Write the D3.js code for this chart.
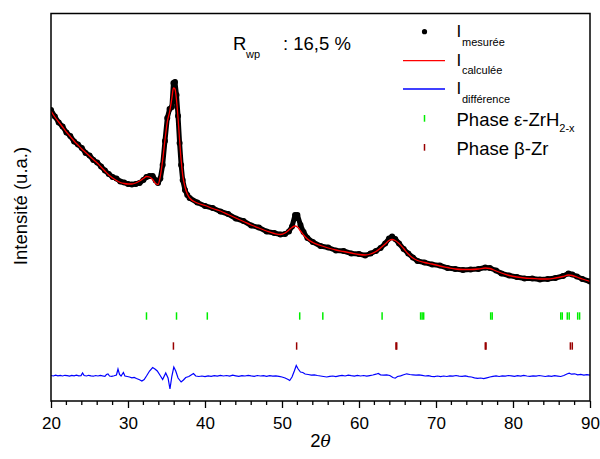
<!DOCTYPE html>
<html><head><meta charset="utf-8">
<script src="https://cdn.jsdelivr.net/npm/d3@7"></script>
<style>body{margin:0;background:#fff} svg{display:block} text{font-family:"Liberation Sans",Arial,sans-serif;fill:#000}</style>
</head><body><svg id="c" width="600" height="459"></svg>
<script>
// 2θ grid shared by measured and calculated profiles
const twoTheta = [20.0,20.5,21.0,21.5,22.0,22.5,23.0,23.5,24.0,24.5,25.0,25.5,26.0,26.5,27.0,27.5,28.0,28.5,29.0,29.5,30.0,30.5,31.0,31.5,32.0,32.4,32.8,33.2,33.6,33.9,34.2,34.5,34.8,35.1,35.4,35.7,35.9,36.1,36.3,36.5,36.7,36.9,37.1,37.4,37.7,38.0,39.0,40.0,41.0,42.0,43.0,44.0,45.0,46.0,47.0,48.0,49.0,49.8,50.4,50.9,51.3,51.7,52.0,52.4,52.8,53.3,54.0,55.0,56.0,57.0,58.0,59.0,60.0,60.8,61.5,62.2,62.8,63.4,63.9,64.3,64.7,65.2,65.8,66.4,67.0,67.6,68.5,69.5,70.5,71.5,72.5,73.5,74.5,75.5,76.4,77.0,77.8,78.5,79.5,80.5,81.5,82.5,83.5,84.5,85.5,86.5,87.2,87.7,88.3,89.0,90.0];
const calculated = [2900,2840,2790,2740,2690,2645,2600,2560,2520,2485,2450,2415,2380,2340,2300,2260,2230,2205,2185,2175,2170,2170,2180,2200,2225,2245,2240,2215,2175,2165,2250,2410,2610,2790,2890,3030,3130,3120,3010,2830,2610,2410,2260,2140,2070,2030,1980,1955,1925,1900,1865,1830,1795,1760,1730,1700,1675,1665,1680,1710,1735,1750,1740,1700,1660,1620,1585,1555,1530,1510,1495,1480,1465,1460,1470,1495,1530,1570,1605,1615,1605,1575,1525,1470,1430,1405,1385,1370,1350,1335,1320,1315,1315,1320,1330,1325,1300,1280,1255,1240,1230,1225,1220,1220,1230,1245,1260,1255,1240,1220,1195];
const measured = [2910,2845,2785,2745,2685,2650,2595,2565,2530,2480,2455,2410,2385,2345,2305,2270,2240,2225,2195,2185,2170,2165,2170,2180,2210,2240,2250,2250,2205,2180,2225,2360,2600,2830,2920,2940,3180,3190,3060,2850,2580,2360,2210,2110,2060,2030,1985,1950,1930,1895,1870,1825,1800,1755,1735,1695,1680,1665,1670,1695,1745,1860,1860,1760,1690,1630,1590,1550,1535,1505,1500,1475,1470,1455,1475,1500,1530,1575,1625,1645,1620,1575,1520,1475,1435,1400,1385,1365,1355,1330,1320,1310,1315,1320,1335,1330,1305,1275,1255,1240,1225,1225,1215,1220,1230,1250,1275,1265,1245,1220,1195];
// difference curve (plotted with its offset)
const diffTheta = [20.0,20.3,20.6,20.9,21.2,21.5,21.8,22.1,22.4,22.7,23.0,23.3,23.6,23.9,24.1,24.3,24.6,24.9,25.2,25.5,25.8,26.1,26.4,26.7,27.0,27.2,27.4,27.6,27.9,28.2,28.5,28.7,28.9,29.1,29.4,29.6,29.9,30.2,30.5,30.8,31.1,31.5,31.8,32.1,32.4,32.8,33.2,33.5,33.8,34.1,34.5,34.9,35.2,35.45,35.7,35.95,36.2,36.5,36.9,37.2,37.5,37.9,38.2,38.5,38.8,39.2,39.6,40.0,40.4,40.8,41.2,41.6,42.0,42.4,42.8,43.2,43.6,44.0,44.4,44.8,45.2,45.6,46.0,46.4,46.8,47.2,47.6,48.0,48.4,48.8,49.2,49.6,50.0,50.4,50.8,51.0,51.3,51.6,51.85,52.1,52.4,52.7,53.0,53.4,53.8,54.2,54.6,55.0,55.4,55.8,56.2,56.6,57.0,57.4,57.8,58.2,58.6,59.0,59.4,59.8,60.2,60.6,61.0,61.4,61.8,62.2,62.5,62.8,63.2,63.6,64.0,64.4,64.7,65.0,65.4,65.8,66.2,66.6,67.0,67.4,67.8,68.2,68.6,69.0,69.4,69.8,70.2,70.6,71.0,71.4,71.8,72.2,72.6,73.0,73.4,73.8,74.2,74.6,75.0,75.4,75.8,76.2,76.6,77.0,77.4,77.8,78.2,78.6,79.0,79.4,79.8,80.2,80.6,81.0,81.4,81.8,82.2,82.6,83.0,83.4,83.8,84.2,84.6,85.0,85.4,85.8,86.2,86.6,87.0,87.3,87.6,88.0,88.4,88.8,89.2,89.6,90.0];
const difference = [255,250,258,252,256,250,257,253,249,256,252,258,251,254,280,255,250,257,252,248,255,250,256,251,247,265,270,250,246,252,260,320,265,250,285,250,245,240,232,236,225,212,200,215,250,300,335,320,300,265,215,280,230,120,250,340,300,230,190,210,235,245,260,275,250,245,250,243,252,246,253,248,256,250,255,249,258,252,246,254,250,256,251,247,255,250,253,247,254,249,252,246,240,230,215,205,240,300,355,320,290,285,270,265,258,262,255,250,245,240,246,250,244,252,256,250,258,253,249,256,250,255,248,254,260,268,275,262,258,262,255,235,228,245,252,262,272,265,262,258,262,256,250,254,247,244,250,243,250,245,252,248,255,249,246,252,244,240,232,226,230,224,232,240,246,251,245,252,248,255,251,246,253,249,256,250,246,252,248,255,250,245,251,247,253,249,245,255,270,278,268,272,262,266,258,263,258];
// Bragg reflection positions
const phaseEpsTheta = [32.4,36.3,40.3,52.3,55.3,63.0,68.0,68.2,68.4,77.1,77.3,86.2,86.4,87.05,87.3,88.4,88.65];
const phaseBetaTheta = [35.9,51.9,64.8,64.9,76.4,76.5,87.45,87.7];
const epsRow = 850, betaRow = 550;
const xTicks = [20,30,40,50,60,70,80,90];
const xMinorTicks = [22,24,26,28,32,34,36,38,42,44,46,48,52,54,56,58,62,64,66,68,72,74,76,78,82,84,86,88];

const svg = d3.select('#c');
const L = 51, R = 590, T = 13.5, B = 401;
const x = d3.scaleLinear().domain([20, 90]).range([L, R]);
const y = d3.scaleLinear().domain([0, 3875]).range([B, T]);

const g = svg.append('g');
// clip
svg.append('clipPath').attr('id','clip').append('rect').attr('x',L).attr('y',T).attr('width',R-L).attr('height',B-T);
const pg = svg.append('g').attr('clip-path','url(#clip)');

// difference
pg.append('path').datum(diffTheta.map((t,i)=>[t,difference[i]]))
  .attr('fill','none').attr('stroke','#0000ff').attr('stroke-width',1.2)
  .attr('d', d3.line().x(d=>x(d[0])).y(d=>y(d[1])));

// Bragg ticks
pg.selectAll('.eps').data(phaseEpsTheta).join('line')
  .attr('x1',d=>x(d)).attr('x2',d=>x(d)).attr('y1',y(epsRow)-3.7).attr('y2',y(epsRow)+3.7)
  .attr('stroke','#00ee00').attr('stroke-width',1.5);
pg.selectAll('.beta').data(phaseBetaTheta).join('line')
  .attr('x1',d=>x(d)).attr('x2',d=>x(d)).attr('y1',y(betaRow)-3.7).attr('y2',y(betaRow)+3.7)
  .attr('stroke','#990000').attr('stroke-width',1.5);

// measured
const obs = twoTheta.map((t,i)=>[t,measured[i]]);
pg.append('path').datum(obs).attr('fill','none').attr('stroke','#000').attr('stroke-width',5)
  .attr('stroke-linejoin','round').attr('stroke-linecap','round')
  .attr('d', d3.line().x(d=>x(d[0])).y(d=>y(d[1])));
pg.selectAll('.obs').data(obs).join('circle')
  .attr('cx',d=>x(d[0])).attr('cy',d=>y(d[1])).attr('r',3).attr('fill','#000');

// calculated
pg.append('path').datum(twoTheta.map((t,i)=>[t,calculated[i]]))
  .attr('fill','none').attr('stroke','#ff0000').attr('stroke-width',1.3)
  .attr('d', d3.line().curve(d3.curveMonotoneX).x(d=>x(d[0])).y(d=>y(d[1])));

// frame
svg.append('rect').attr('x',L).attr('y',T).attr('width',R-L).attr('height',B-T)
  .attr('fill','none').attr('stroke','#000').attr('stroke-width',1.5);

// x axis
const ax = svg.append('g').attr('transform',`translate(0,${B})`)
  .call(d3.axisBottom(x).tickValues(xTicks).tickSize(7).tickPadding(9).tickFormat(d3.format('d')));
ax.select('.domain').remove();
ax.selectAll('line').attr('stroke','#000').attr('stroke-width',1.3);
ax.selectAll('text').attr('font-size',17).attr('font-family','"Liberation Sans",Arial,sans-serif');
svg.append('g').selectAll('line').data(xMinorTicks).join('line')
  .attr('x1',d=>x(d)).attr('x2',d=>x(d)).attr('y1',B).attr('y2',B+4)
  .attr('stroke','#000').attr('stroke-width',1.3);

// axis titles
const xl = svg.append('text').attr('x',(L+R)/2).attr('y',447).attr('text-anchor','middle').attr('font-size',18.5);
xl.append('tspan').text('2');
xl.append('tspan').attr('font-style','italic').attr('font-family','"DejaVu Serif",serif').attr('font-size',17).text('θ');
svg.append('text').attr('transform','translate(27,206) rotate(-90)').attr('text-anchor','middle')
  .attr('font-size',18.5).text('Intensité (u.a.)');

// R_wp
svg.append('text').attr('x',233).attr('y',49.5).attr('font-size',18.5).text('R');
svg.append('text').attr('x',246).attr('y',58).attr('font-size',11).text('wp');
svg.append('text').attr('x',283).attr('y',49.5).attr('font-size',18.5).text(': 16,5 %');

// legend
const lx = 456.5, ls = 424.5;
svg.append('circle').attr('cx',ls).attr('cy',31.7).attr('r',2.6).attr('fill','#000');
svg.append('line').attr('x1',403).attr('x2',445).attr('y1',60.7).attr('y2',60.7).attr('stroke','#ff0000').attr('stroke-width',1.3);
svg.append('line').attr('x1',403).attr('x2',445).attr('y1',89).attr('y2',89).attr('stroke','#0000ff').attr('stroke-width',1.3);
svg.append('line').attr('x1',ls).attr('x2',ls).attr('y1',115).attr('y2',121.7).attr('stroke','#00ee00').attr('stroke-width',1.5);
svg.append('line').attr('x1',ls).attr('x2',ls).attr('y1',144).attr('y2',150.7).attr('stroke','#990000').attr('stroke-width',1.5);
const items = [['mesurée',37],['calculée',65.7],['différence',94]];
items.forEach(([s,b])=>{
  svg.append('text').attr('x',lx).attr('y',b).attr('font-size',17).text('I');
  svg.append('text').attr('x',lx+5.5).attr('y',b+8.5).attr('font-size',11).text(s);
});
const p1 = svg.append('text').attr('x',lx).attr('y',126).attr('font-size',18.5);
p1.append('tspan').text('Phase ε-ZrH');
p1.append('tspan').attr('font-size',11).attr('dy',6).text('2-x');
svg.append('text').attr('x',lx).attr('y',155).attr('font-size',18.5).text('Phase β-Zr');
</script></body></html>
